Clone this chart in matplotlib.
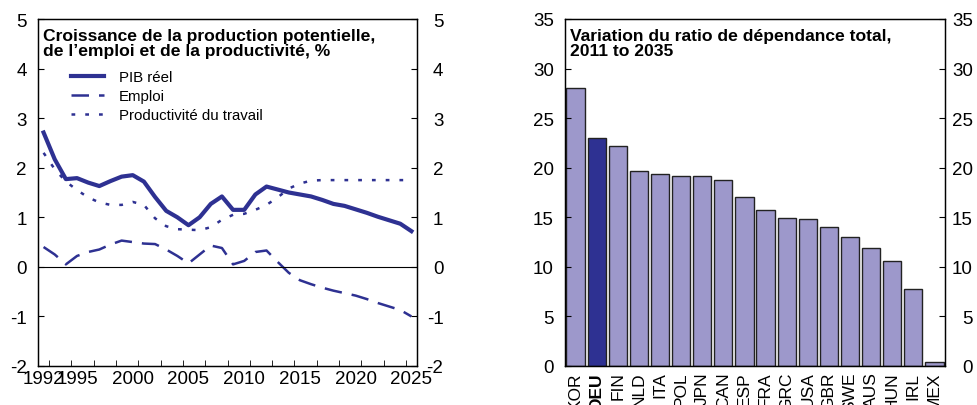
import numpy as np
import matplotlib
matplotlib.use('Agg')
import matplotlib.pyplot as plt
import matplotlib.ticker as mticker

plt.rcParams['font.family'] = ['Liberation Sans', 'DejaVu Sans']
plt.rcParams['axes.unicode_minus'] = False

# panel 1 data
years = list(range(1992, 2026))
pib = [2.71, 2.17, 1.77, 1.79, 1.70, 1.63, 1.73, 1.82, 1.85, 1.72,
       1.41, 1.13, 1.00, 0.84, 1.00, 1.27, 1.42, 1.15, 1.15, 1.46,
       1.62, 1.56, 1.50, 1.46, 1.42, 1.35, 1.27, 1.23, 1.16, 1.09,
       1.01, 0.94, 0.87, 0.72]
emploi = [0.40, 0.25, 0.05, 0.22, 0.30, 0.35, 0.45, 0.53, 0.50, 0.47,
          0.46, 0.35, 0.22, 0.07, 0.25, 0.43, 0.38, 0.05, 0.12, 0.30,
          0.33, 0.10, -0.12, -0.27, -0.35, -0.42, -0.48, -0.53, -0.58, -0.65,
          -0.73, -0.80, -0.87, -1.00]
productivite = [2.30, 1.97, 1.72, 1.55, 1.40, 1.30, 1.25, 1.25, 1.31, 1.25,
                0.98, 0.82, 0.76, 0.75, 0.74, 0.80, 0.95, 1.05, 1.07, 1.15,
                1.25, 1.40, 1.58, 1.68, 1.74, 1.75, 1.75, 1.75, 1.75, 1.75,
                1.75, 1.75, 1.75, 1.75]
year_labels = [1992, 1995, 2000, 2005, 2010, 2015, 2020, 2025]

# panel 2 data
pays = ['KOR', 'DEU', 'FIN', 'NLD', 'ITA', 'POL', 'JPN', 'CAN', 'ESP',
        'FRA', 'GRC', 'USA', 'GBR', 'SWE', 'AUS', 'HUN', 'IRL', 'MEX']
ratio = [28.0, 23.0, 22.2, 19.7, 19.4, 19.2, 19.2, 18.8, 17.0,
         15.7, 14.9, 14.8, 14.0, 13.0, 11.9, 10.6, 7.8, 0.37]

navy = '#2E3192'
light = '#9D98CB'

fig = plt.figure(figsize=(9.77, 4.06), dpi=100)
ax1 = fig.add_axes([38/977, 39/406, 379/977, 347/406])
ax2 = fig.add_axes([565/977, 39/406, 380/977, 347/406])


def right_labels(ax, ticks, pad):
    # copy of the y scale on the right, labels right-aligned like the original
    axr = ax.twinx()
    axr.set_ylim(ax.get_ylim())
    axr.set_yticks(ticks)
    axr.tick_params(axis='y', direction='in', length=4, labelsize=13.5, pad=pad)
    plt.setp(axr.get_yticklabels(), ha='right')
    return axr


# --- left panel
ax1.plot(years, pib, color=navy, lw=3, label='PIB réel')
ax1.plot(years, emploi, color=navy, lw=1.8, dashes=(7, 4), label='Emploi')
ax1.plot(years, productivite, color=navy, lw=1.8, dashes=(1.5, 4), label='Productivité du travail')
ax1.axhline(0, color='black', lw=0.8)
ax1.set_xlim(1991.5, 2025.5)
ax1.set_ylim(-2, 5)
ax1.set_yticks(range(-2, 6))
ax1.set_xticks(year_labels)
ax1.xaxis.set_minor_locator(mticker.FixedLocator(np.arange(1992.5, 2025, 2)))
ax1.tick_params(axis='x', which='major', length=0, labelsize=13.5, pad=3)
ax1.tick_params(axis='x', which='minor', direction='in', length=4)
ax1.tick_params(axis='y', direction='in', length=4, labelsize=13.5, pad=8)
right_labels(ax1, range(-2, 6), 19)
ax1.text(0.012, 0.975, 'Croissance de la production potentielle,\nde l\u2019emploi et de la productivité, %',
         transform=ax1.transAxes, ha='left', va='top', fontsize=12.6, fontweight='bold',
         linespacing=1.0)
ax1.legend(loc='upper left', bbox_to_anchor=(0.07, 0.87), frameon=False, fontsize=10.8,
           handlelength=2.2, handletextpad=1.0, labelspacing=0.33, borderaxespad=0)

# --- right panel
colors = [navy if p == 'DEU' else light for p in pays]
x = np.arange(len(pays))
ax2.bar(x, ratio, width=0.86, color=colors, edgecolor='#222222', linewidth=1)
ax2.set_xlim(-0.5, len(pays) - 0.5)
ax2.set_ylim(0, 35)
ax2.set_yticks(range(0, 36, 5))
ax2.set_xticks(x)
ax2.set_xticklabels(pays, rotation=90)
for lab in ax2.get_xticklabels():
    if lab.get_text() == 'DEU':
        lab.set_fontweight('bold')
ax2.tick_params(axis='x', length=0, labelsize=12.5, pad=4)
ax2.tick_params(axis='y', direction='in', length=4, labelsize=13.5, pad=8)
right_labels(ax2, range(0, 36, 5), 20)
ax2.text(0.012, 0.975, 'Variation du ratio de dépendance total,\n2011 to 2035',
         transform=ax2.transAxes, ha='left', va='top', fontsize=12.6, fontweight='bold',
         linespacing=1.0)

for ax in fig.axes:
    for s in ax.spines.values():
        s.set_linewidth(0.9)

fig.savefig('out.png', dpi=100)
